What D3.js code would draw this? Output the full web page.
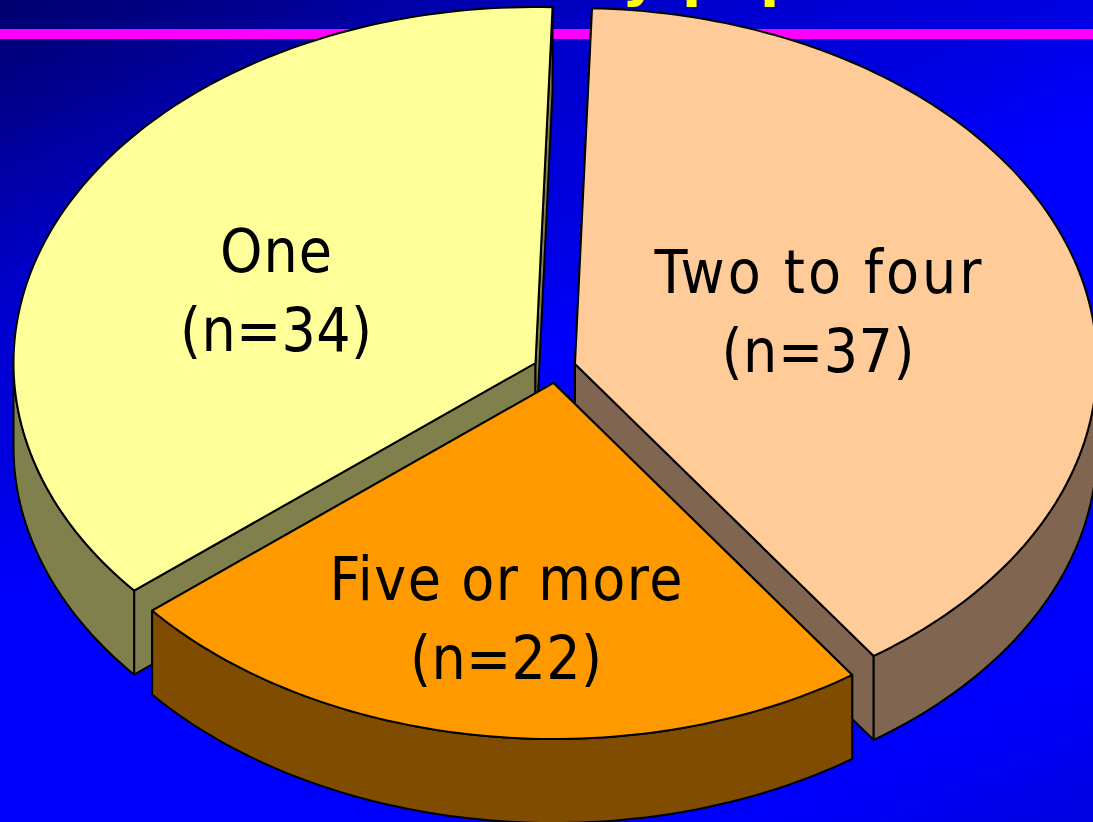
<!DOCTYPE html>
<html>
<head>
<meta charset="utf-8">
<script src="https://cdn.jsdelivr.net/npm/d3@7/dist/d3.min.js"></script>
<style>
  html, body { margin: 0; padding: 0; background: #0000ff; overflow: hidden; }
  text { font-family: "DejaVu Sans", sans-serif; }
  .label { font-family: "DejaVu Sans Condensed", "DejaVu Sans", sans-serif; font-stretch: condensed; }
</style>
</head>
<body>
<svg id="chart" width="1093" height="822"></svg>
<script>
const categories = ["Two to four", "Five or more", "One"];
const counts = [37, 22, 34];
const sliceLabels = ["(n=37)", "(n=22)", "(n=34)"];
const topColors = ["#ffcc99", "#ff9900", "#ffff99"];
const wallColors = ["#806650", "#804c00", "#80804d"];

const width = 1093;
const height = 822;
const rx = 522;
const ry = 356;
const depth = 84;
const startDeg = 1.87;
// exploded slice centres and label anchors, same order as categories
const centers = [[575, 364], [553.5, 383], [535.5, 363]];
const labelPos = [[818, 293], [506, 600], [276, 272]];
const nameWidths = [327, 353, 112];
const countWidths = [193, 192, 192];

const svg = d3.select("#chart");

const defs = svg.append("defs");
const grad = defs.append("linearGradient")
  .attr("id", "bg")
  .attr("gradientUnits", "userSpaceOnUse")
  .attr("x1", 0).attr("y1", 0)
  .attr("x2", 476).attr("y2", 1088);
[[0, "#00006e"], [0.103, "#000096"], [0.228, "#0000cd"], [0.368, "#0000e1"],
 [0.463, "#0000ff"], [0.88, "#0000ff"], [1, "#0000e0"]].forEach(([o, c]) => {
  grad.append("stop").attr("offset", o).attr("stop-color", c);
});
svg.append("rect").attr("width", width).attr("height", height).attr("fill", "url(#bg)");

// title is cut off by the top of the slide, only the descenders show
[["y", 622], ["p", 682], ["p", 760]].forEach(([ch, x]) => {
  svg.append("text")
    .attr("x", x).attr("y", -5)
    .attr("font-size", 56).attr("font-weight", "bold")
    .attr("fill", "#ffff00")
    .text(ch);
});

svg.append("rect")
  .attr("x", 0).attr("y", 29)
  .attr("width", width).attr("height", 10)
  .attr("fill", "#ff00ff");

const pie = d3.pie()
  .sort(null)
  .startAngle(startDeg * Math.PI / 180)
  .endAngle((startDeg + 360) * Math.PI / 180);
const slices = pie(counts).map((d, i) => ({
  ...d,
  name: categories[i],
  label: sliceLabels[i],
  top: topColors[i],
  wall: wallColors[i],
  center: centers[i],
  labelAt: labelPos[i],
  nameWidth: nameWidths[i],
  countWidth: countWidths[i]
}));

const line = d3.line();

function rim(d, a0, a1, dy) {
  const steps = Math.max(2, Math.ceil(Math.abs(a1 - a0) / 0.02));
  return d3.range(steps + 1).map(k => {
    const a = a0 + (a1 - a0) * k / steps;
    return [d.center[0] + rx * Math.sin(a), d.center[1] + dy - ry * Math.cos(a)];
  });
}

function sideWall(d, a) {
  const [cx, cy] = d.center;
  const p = rim(d, a, a, 0)[0];
  return [[cx, cy], p, [p[0], p[1] + depth], [cx, cy + depth]];
}

function outerWall(d) {
  // only the part of the rim that faces the viewer
  const a0 = Math.max(d.startAngle, Math.PI / 2);
  const a1 = Math.min(d.endAngle, Math.PI * 1.5);
  if (a1 <= a0) return null;
  return rim(d, a0, a1, 0).concat(rim(d, a1, a0, depth));
}

const strokeStyle = sel => sel
  .attr("stroke", "#000")
  .attr("stroke-width", 2)
  .attr("stroke-linejoin", "round");

// back to front: One, Two to four, Five or more
const drawOrder = [2, 0, 1].map(i => slices[i]);

drawOrder.forEach(d => {
  const g = svg.append("g").attr("class", "slice");
  [d.startAngle, d.endAngle].forEach(a => {
    g.append("path")
      .attr("d", line(sideWall(d, a)) + "Z")
      .attr("fill", d.wall)
      .call(strokeStyle);
  });
  const outer = outerWall(d);
  if (outer) {
    g.append("path")
      .attr("d", line(outer) + "Z")
      .attr("fill", d.wall)
      .call(strokeStyle);
  }
  g.append("path")
    .attr("d", line([d.center].concat(rim(d, d.startAngle, d.endAngle, 0))) + "Z")
    .attr("fill", d.top)
    .call(strokeStyle);
});

slices.forEach(d => {
  const t = svg.append("text")
    .attr("class", "label")
    .attr("text-anchor", "middle")
    .attr("font-size", 60)
    .attr("fill", "#000");
  t.append("tspan")
    .attr("x", d.labelAt[0]).attr("y", d.labelAt[1])
    .attr("textLength", d.nameWidth)
    .text(d.name);
  t.append("tspan")
    .attr("x", d.labelAt[0]).attr("y", d.labelAt[1] + 79)
    .attr("textLength", d.countWidth)
    .text(d.label);
});
</script>
</body>
</html>
